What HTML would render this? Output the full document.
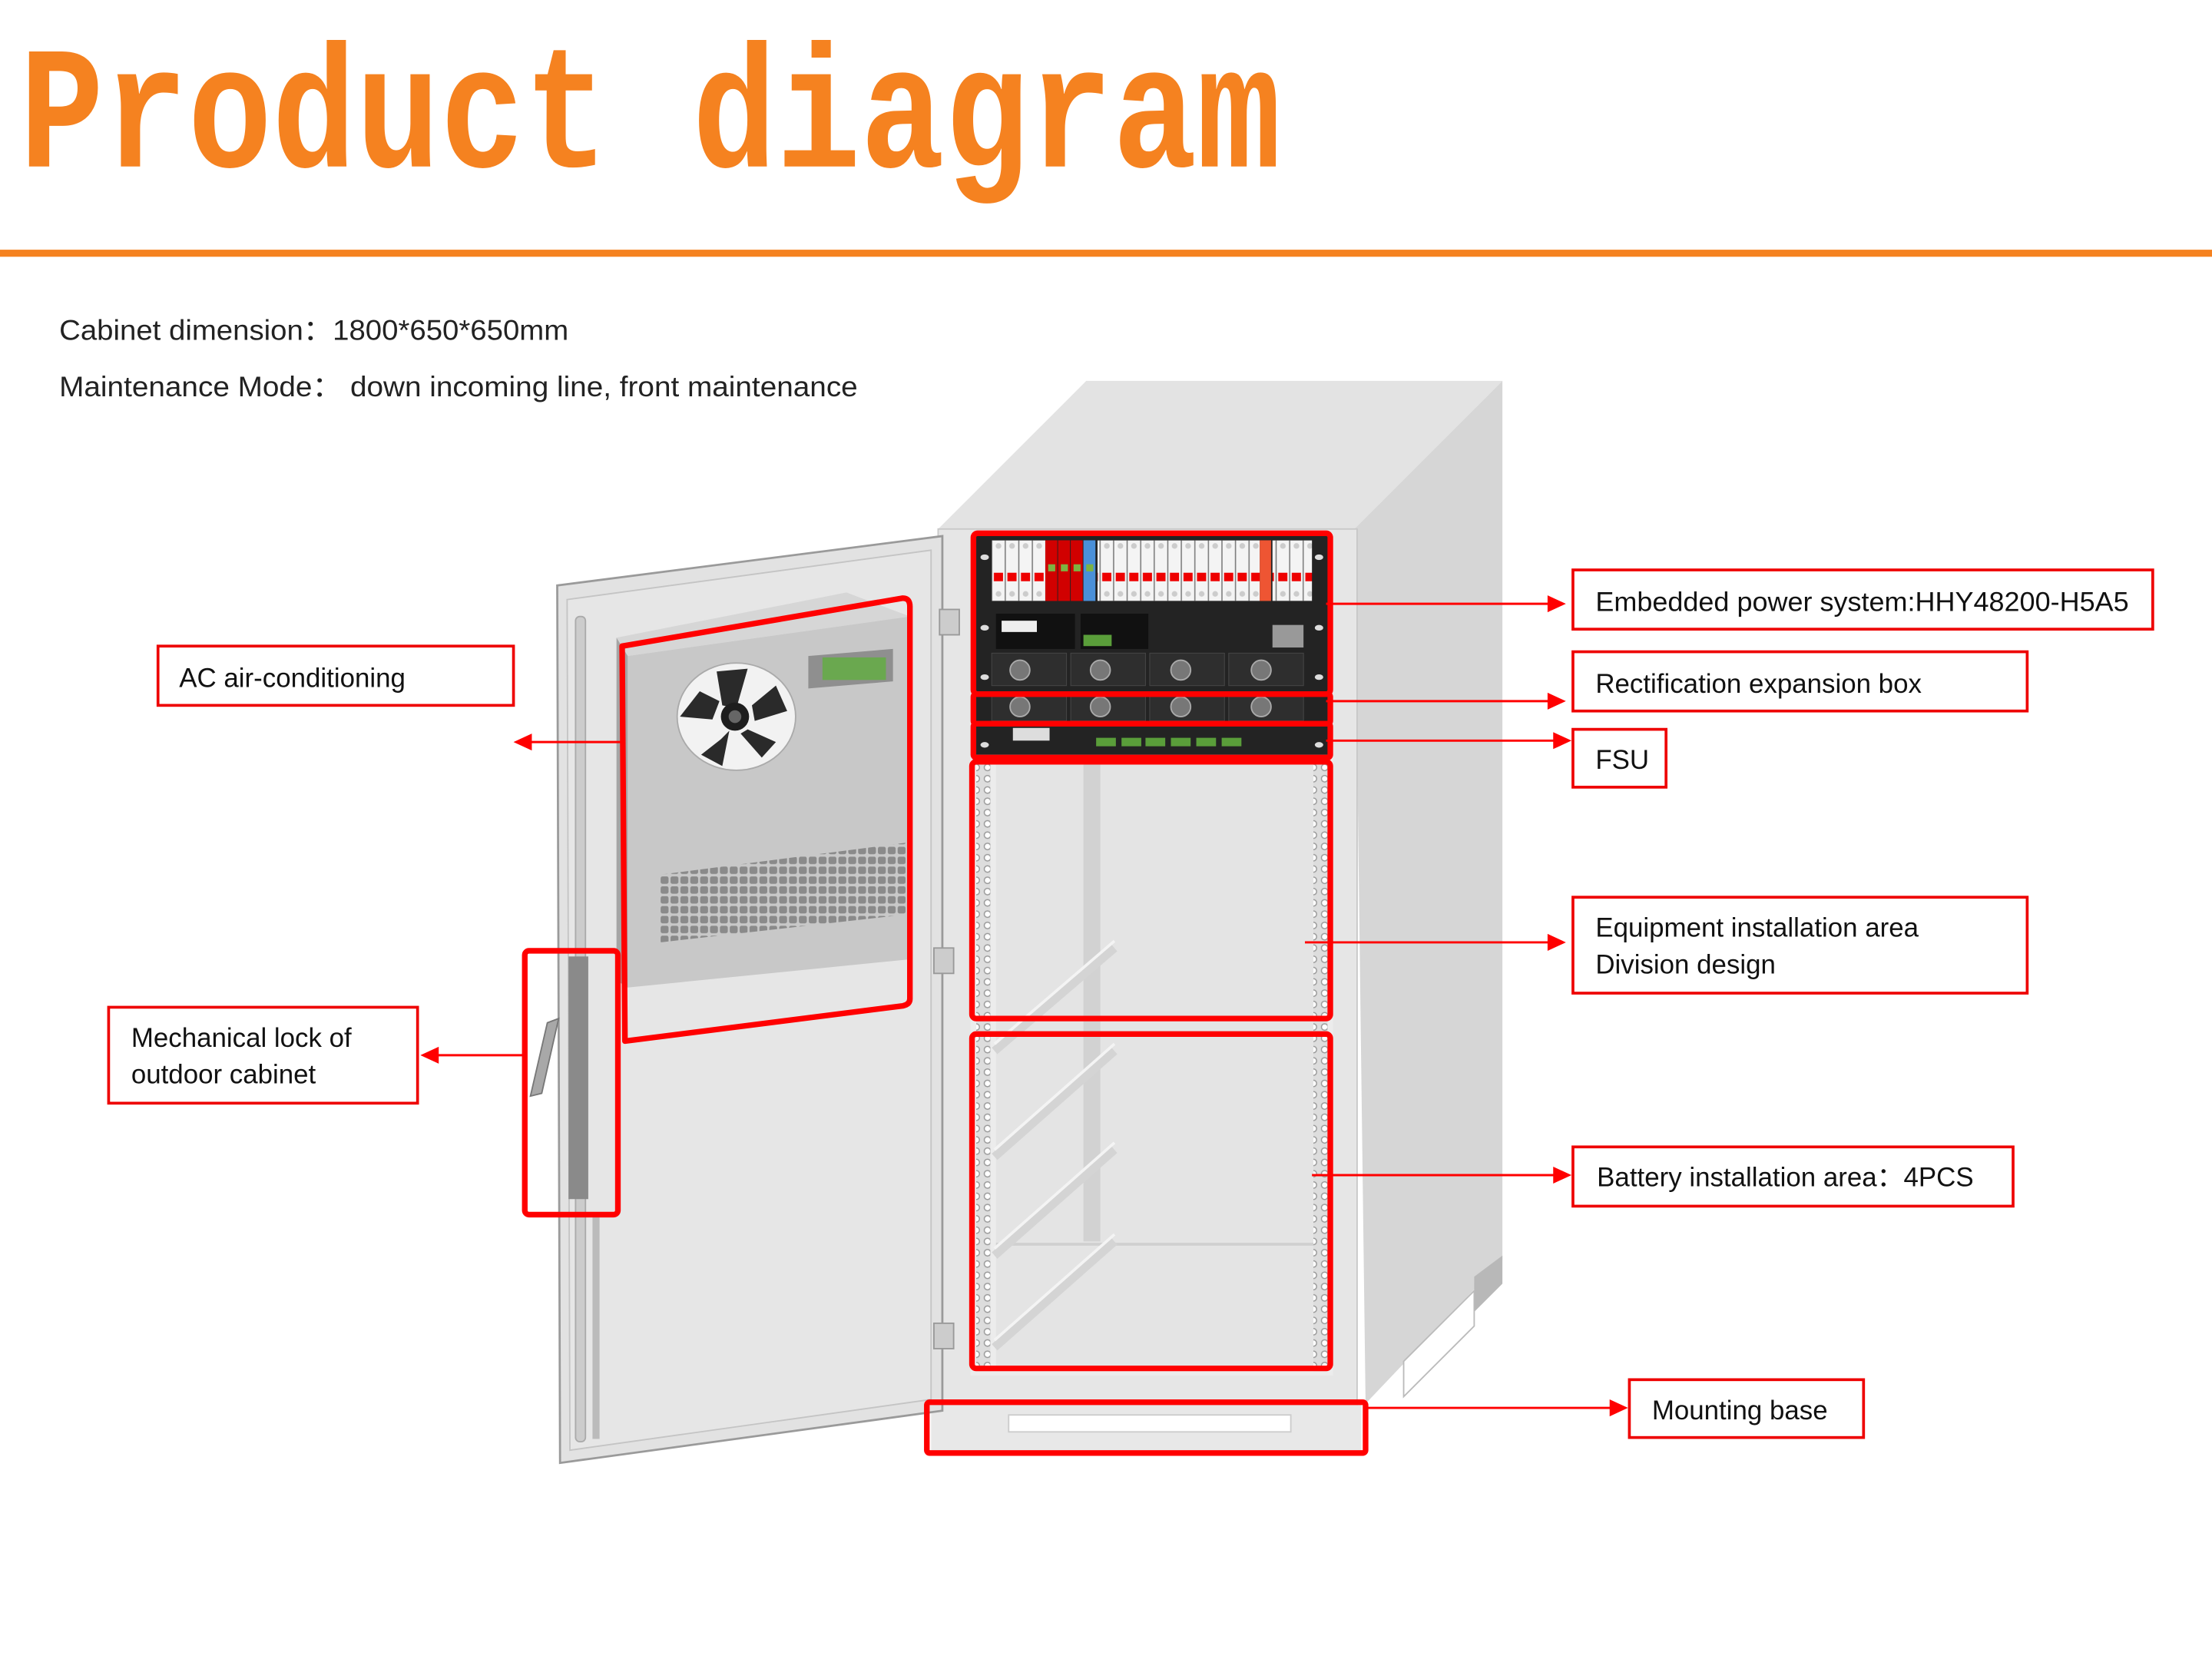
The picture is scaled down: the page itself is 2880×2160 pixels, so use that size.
<!DOCTYPE html>
<html><head><meta charset="utf-8"><style>
html,body{margin:0;padding:0;background:#fff;}
svg{display:block;}
</style></head><body>
<svg width="2880" height="2160" viewBox="0 0 1568 1176" xmlns="http://www.w3.org/2000/svg">
<defs>
<pattern id="grille" x="468" y="600" width="7" height="7" patternUnits="userSpaceOnUse"><rect x="0.3" y="0.3" width="5.6" height="5.2" rx="1.3" fill="#8a8a8a"/></pattern>
<pattern id="holes" x="0" y="540" width="8" height="8" patternUnits="userSpaceOnUse"><circle cx="4" cy="4" r="2.3" fill="#fff" stroke="#999" stroke-width="0.8"/></pattern>
<pattern id="brk" x="703" y="383" width="9.6" height="44" patternUnits="userSpaceOnUse"><rect x="0.3" y="0" width="9" height="43" fill="#f4f4f4" stroke="#aaa" stroke-width="0.4"/><circle cx="4.8" cy="4" r="2" fill="#ccc"/><rect x="1.5" y="23" width="6.5" height="6" fill="#e00"/><circle cx="4.8" cy="38" r="2" fill="#ccc"/></pattern>
</defs>
<rect width="1568" height="1176" fill="#fff"/>
<!-- Title -->
<text x="14" y="118" font-family="Liberation Mono, monospace" font-weight="bold" font-size="99" fill="#F58220" textLength="894" lengthAdjust="spacingAndGlyphs" transform="translate(0,-29.5) scale(1,1.25)">Product diagram</text>
<rect x="0" y="177" width="1568" height="5" fill="#F58220"/>
<text x="42" y="241" font-family="Liberation Sans, sans-serif" font-size="20" fill="#222" textLength="361" lengthAdjust="spacingAndGlyphs">Cabinet dimension：1800*650*650mm</text>
<text x="42" y="281" font-family="Liberation Sans, sans-serif" font-size="20" fill="#222" textLength="566" lengthAdjust="spacingAndGlyphs">Maintenance Mode：  down incoming line, front maintenance</text>

<!-- Cabinet body -->
<polygon points="665,375 770,270 1065,270 960,375" fill="#e3e3e3"/>
<polygon points="960,375 1065,270 1065,893 968,995" fill="#d6d6d6"/>
<polygon points="1045,905 1065,890 1065,910 1045,930" fill="#b8b8b8"/>
<polygon points="995,965 1045,915 1045,940 995,990" fill="#fff" stroke="#bbb"/>
<rect x="665" y="375" width="297" height="622" fill="#e6e6e6" stroke="#c8c8c8"/>
<rect x="688" y="378" width="257" height="597" fill="#ececec"/>
<rect x="706" y="540" width="225" height="430" fill="#e4e4e4"/>
<rect x="768" y="540" width="12" height="340" fill="#d2d2d2"/>
<line x1="706" y1="882" x2="931" y2="882" stroke="#d0d0d0" stroke-width="2"/>
<g stroke="#d4d4d4" stroke-width="6" fill="none">
<line x1="705" y1="745" x2="790" y2="672"/>
<line x1="705" y1="820" x2="790" y2="745"/>
<line x1="705" y1="890" x2="790" y2="815"/>
<line x1="705" y1="955" x2="790" y2="880"/>
</g>
<g stroke="#f4f4f4" stroke-width="2" fill="none">
<line x1="705" y1="740" x2="790" y2="667"/>
<line x1="705" y1="815" x2="790" y2="740"/>
<line x1="705" y1="885" x2="790" y2="810"/>
<line x1="705" y1="950" x2="790" y2="875"/>
</g>
<rect x="692" y="540" width="10" height="432" fill="#ddd"/>
<rect x="692" y="540" width="10" height="432" fill="url(#holes)"/>
<rect x="931" y="540" width="10" height="432" fill="#ddd"/>
<g transform="translate(239,0)"><rect x="692" y="540" width="10" height="432" fill="url(#holes)"/></g>
<rect x="660" y="996" width="305" height="32" fill="#e8e8e8"/>
<rect x="715" y="1003" width="200" height="12" fill="#fff" stroke="#ccc"/>

<!-- Power system -->
<rect x="692" y="380" width="250" height="155" fill="#232323"/>
<rect x="703" y="383" width="38" height="43" fill="url(#brk)"/>
<rect x="741" y="383" width="8.5" height="43" fill="#d10000"/><rect x="750" y="383" width="8.5" height="43" fill="#d10000"/><rect x="759" y="383" width="8.5" height="43" fill="#d10000"/><rect x="768" y="383" width="8.5" height="43" fill="#4a90d9"/>
<rect x="743" y="400" width="5" height="5" fill="#7cb342"/><rect x="752" y="400" width="5" height="5" fill="#7cb342"/><rect x="761" y="400" width="5" height="5" fill="#7cb342"/><rect x="770" y="400" width="5" height="5" fill="#7cb342"/>
<rect x="778" y="383" width="115" height="43" fill="url(#brk)"/>
<rect x="893" y="383" width="8" height="43" fill="#e53"/>
<rect x="902" y="383" width="28" height="43" fill="url(#brk)"/>
<rect x="706" y="435" width="56" height="25" fill="#111"/><rect x="710" y="440" width="25" height="8" fill="#eee"/>
<rect x="766" y="435" width="48" height="25" fill="#111"/><rect x="768" y="450" width="20" height="8" fill="#5a9e3a"/>
<rect x="902" y="443" width="22" height="16" fill="#999"/>
<g fill="#2e2e2e" stroke="#444" stroke-width="0.6">
<rect x="703" y="463" width="53" height="23"/><rect x="759" y="463" width="53" height="23"/><rect x="815" y="463" width="53" height="23"/><rect x="871" y="463" width="53" height="23"/>
<rect x="703" y="493" width="53" height="18"/><rect x="759" y="493" width="53" height="18"/><rect x="815" y="493" width="53" height="18"/><rect x="871" y="493" width="53" height="18"/>
</g>
<g fill="#777" stroke="#aaa" stroke-width="1">
<circle cx="723" cy="475" r="7"/><circle cx="780" cy="475" r="7"/><circle cx="837" cy="475" r="7"/><circle cx="894" cy="475" r="7"/>
<circle cx="723" cy="501" r="7"/><circle cx="780" cy="501" r="7"/><circle cx="837" cy="501" r="7"/><circle cx="894" cy="501" r="7"/>
</g>
<rect x="718" y="516" width="26" height="9" fill="#ddd"/>
<g fill="#5a9e3a"><rect x="777" y="523" width="14" height="6"/><rect x="795" y="523" width="14" height="6"/><rect x="812" y="523" width="14" height="6"/><rect x="830" y="523" width="14" height="6"/><rect x="848" y="523" width="14" height="6"/><rect x="866" y="523" width="14" height="6"/></g>
<g fill="#ddd"><ellipse cx="698" cy="395" rx="3" ry="2"/><ellipse cx="698" cy="445" rx="3" ry="2"/><ellipse cx="698" cy="480" rx="3" ry="2"/><ellipse cx="698" cy="528" rx="3" ry="2"/><ellipse cx="935" cy="395" rx="3" ry="2"/><ellipse cx="935" cy="445" rx="3" ry="2"/><ellipse cx="935" cy="480" rx="3" ry="2"/><ellipse cx="935" cy="528" rx="3" ry="2"/></g>

<!-- Door -->
<polygon points="395,415 668,380 668,1000 397,1037" fill="#e2e2e2" stroke="#9a9a9a" stroke-width="1.5"/>
<polygon points="402,425 660,390 660,992 404,1028" fill="#e6e6e6" stroke="#c4c4c4"/>
<rect x="408" y="437" width="7" height="585" rx="3" fill="#ccc" stroke="#aaa"/>
<rect x="420" y="860" width="5" height="160" fill="#bbb"/>
<rect x="666" y="432" width="14" height="18" fill="#ccc" stroke="#999"/>
<rect x="662" y="672" width="14" height="18" fill="#ccc" stroke="#999"/>
<rect x="662" y="938" width="14" height="18" fill="#ccc" stroke="#999"/>
<rect x="403" y="678" width="14" height="172" fill="#8a8a8a"/>
<polygon points="388,725 396,722 384,775 376,777" fill="#a8a8a8" stroke="#777"/>
<!-- AC unit -->
<polygon points="437,452 600,420 645,437 445,465" fill="#d6d6d6"/>
<polygon points="437,452 445,465 445,700 437,695" fill="#a5a5a5"/>
<polygon points="445,465 645,437 645,680 445,700" fill="#c8c8c8"/>
<polygon points="573,465 633,460 633,483 573,488" fill="#8f8f8f"/>
<rect x="583" y="466" width="45" height="16" fill="#6aa84f"/>
<ellipse cx="522" cy="508" rx="42" ry="38" fill="#f2f2f2" stroke="#aaa"/>
<g fill="#2a2a2a">
<polygon points="508,476 530,474 522,502 512,500"/>
<polygon points="533,500 550,486 558,504 535,511"/>
<polygon points="530,517 550,526 540,537 525,520"/>
<polygon points="497,535 511,524 517,518 512,543"/>
<polygon points="482,508 496,490 510,497 505,510"/>
</g>
<circle cx="521" cy="508" r="10" fill="#1e1e1e"/><circle cx="521" cy="508" r="4.5" fill="#666"/>
<polygon points="468,620 645,597 645,648 468,668" fill="url(#grille)"/>

<!-- Red highlight boxes -->
<g fill="none" stroke="#f00" stroke-width="4" stroke-linejoin="round">
<rect x="690" y="378" width="253" height="114" rx="3"/>
<rect x="690" y="492" width="253" height="21" rx="2"/>
<rect x="690" y="513" width="253" height="24" rx="2"/>
<rect x="689" y="540" width="254" height="182" rx="3"/>
<rect x="689" y="733" width="254" height="237" rx="3"/>
<rect x="657" y="994" width="311" height="36" rx="2"/>
<path d="M441,458 L640,424 Q645,424 645,430 L645,708 Q645,712 640,713 L443,738 Z"/>
<rect x="372" y="674" width="66" height="187" rx="3"/>
</g>

<!-- Connectors -->
<g stroke="#f00" stroke-width="1.6" fill="#f00">
<line x1="940" y1="428" x2="1100" y2="428"/><polygon points="1110,428 1097,422 1097,434" stroke="none"/>
<line x1="940" y1="497" x2="1100" y2="497"/><polygon points="1110,497 1097,491 1097,503" stroke="none"/>
<line x1="940" y1="525" x2="1103" y2="525"/><polygon points="1114,525 1101,519 1101,531" stroke="none"/>
<line x1="925" y1="668" x2="1100" y2="668"/><polygon points="1110,668 1097,662 1097,674" stroke="none"/>
<line x1="930" y1="833" x2="1103" y2="833"/><polygon points="1114,833 1101,827 1101,839" stroke="none"/>
<line x1="968" y1="998" x2="1143" y2="998"/><polygon points="1154,998 1141,992 1141,1004" stroke="none"/>
<line x1="440" y1="526" x2="375" y2="526"/><polygon points="364,526 377,520 377,532" stroke="none"/>
<line x1="372" y1="748" x2="309" y2="748"/><polygon points="298,748 311,742 311,754" stroke="none"/>
</g>

<!-- Label boxes -->
<g fill="#fff" stroke="#e00" stroke-width="2">
<rect x="112" y="458" width="252" height="42"/>
<rect x="77" y="714" width="219" height="68"/>
<rect x="1115" y="404" width="411" height="42"/>
<rect x="1115" y="462" width="322" height="42"/>
<rect x="1115" y="517" width="66" height="41"/>
<rect x="1115" y="636" width="322" height="68"/>
<rect x="1115" y="813" width="312" height="42"/>
<rect x="1155" y="978" width="166" height="41"/>
</g>
<g font-family="Liberation Sans, sans-serif" font-size="19" fill="#111">
<text x="127" y="487">AC air-conditioning</text>
<text x="93" y="742">Mechanical lock of</text>
<text x="93" y="768">outdoor cabinet</text>
<text x="1131" y="433" textLength="378" lengthAdjust="spacingAndGlyphs">Embedded power system:HHY48200-H5A5</text>
<text x="1131" y="491">Rectification expansion box</text>
<text x="1131" y="545">FSU</text>
<text x="1131" y="664">Equipment installation area</text>
<text x="1131" y="690">Division design</text>
<text x="1132" y="841">Battery installation area：4PCS</text>
<text x="1171" y="1006">Mounting base</text>
</g>
</svg>
</body></html>
